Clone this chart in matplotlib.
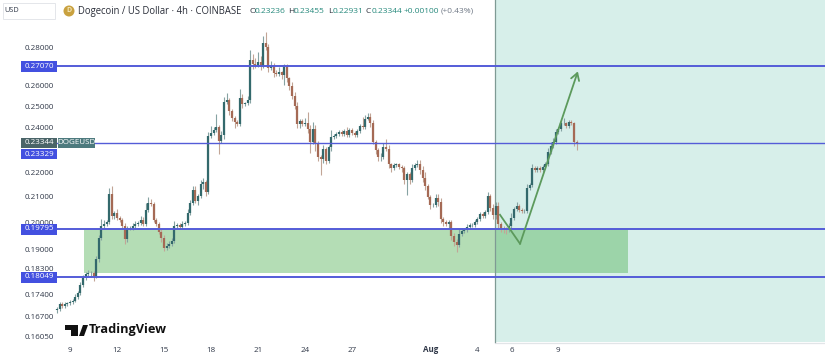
import numpy as np
import matplotlib
matplotlib.use("Agg")
import matplotlib.pyplot as plt
from matplotlib.patches import Rectangle, Circle, Polygon
from matplotlib.transforms import blended_transform_factory

plt.rcParams['font.family'] = ['Open Sans', 'DejaVu Sans']

# 4h closes, one row per day (Jul 8 .. Aug 10)
closes = [
 .1698,.1712,.1706,.1714,.1716,
 .1720,.1724,.1737,.1750,.1777,.1801,
 .1814,.1818,.1818,.1807,.1866,.1946,
 .1991,.1998,.2006,.2115,.2029,.2040,
 .2021,.2013,.1991,.1939,.1983,.1983,
 .1991,.1998,.2002,.2013,.1998,.2052,
 .2079,.2075,.2013,.1998,.1968,.1946,
 .1909,.1916,.1923,.1935,.1991,.1994,
 .1987,.1998,.2002,.2040,.2079,.2131,
 .2087,.2107,.2155,.2164,.2123,.2364,
 .2378,.2391,.2405,.2342,.2369,.2524,
 .2535,.2480,.2450,.2428,.2419,.2545,
 .2513,.2518,.2535,.2736,.2714,.2709,
 .2725,.2703,.2827,.2805,.2692,.2703,
 .2667,.2662,.2672,.2657,.2698,.2642,
 .2602,.2554,.2506,.2419,.2436,.2419,
 .2423,.2396,.2338,.2396,.2333,.2272,
 .2264,.2307,.2256,.2316,.2360,.2364,
 .2373,.2382,.2373,.2387,.2369,.2391,
 .2378,.2369,.2387,.2410,.2405,.2445,
 .2455,.2423,.2338,.2303,.2272,.2272,
 .2316,.2307,.2239,.2226,.2235,.2239,
 .2230,.2222,.2172,.2197,.2172,.2222,
 .2235,.2243,.2214,.2180,.2147,.2103,
 .2071,.2071,.2099,.2083,.2017,.2006,
 .1998,.2006,.1953,.1931,.1920,.1961,
 .1972,.1975,.1987,.1994,.1994,.2006,
 .2017,.2036,.2029,.2044,.2107,.2060,
 .2033,.2067,.1998,.1983,.1979,.1975,
 .1991,.2021,.2056,.2067,.2052,.2048,
 .2048,.2139,.2151,.2222,.2214,.2222,
 .2214,.2230,.2243,.2294,.2320,.2338,
 .2382,.2396,.2423,.2423,.2410,.2428,
 .2423,.2338,.2334,
]
# wick lengths above / below the body, in units of $0.0017
wick_up = [
 .3,.5,.4,.4,.3,
 .4,.4,.5,.3,.5,.5,
 .4,.6,.4,.4,.8,.5,
 1.5,.8,.5,1.5,2,.5,
 1,.5,.5,.6,.5,.5,
 .5,.6,.5,1,.6,1.5,
 1.5,1,.5,.5,.5,.5,
 .5,.5,.6,.5,1,.5,
 .5,.6,.5,1,.8,1,
 1,.5,1,1,.5,1,
 2,1,3.5,.5,1,1.5,
 2,.5,.5,.5,.5,2.5,
 1,.5,1,3,2,2,
 3,2,2.2,3.4,1,1.5,
 1,1,1.5,.5,1,1,
 .5,1.2,1,1,.5,.5,
 1.5,3,1,2,1,.5,
 .5,1,.5,.5,2,.5,
 .7,.5,.5,.7,1,.7,
 .5,.5,.5,.5,2.5,1,
 1,1,1,.5,.5,1,
 1,2,1,.5,.5,.5,
 .5,.5,.5,.5,.5,1,
 .5,1,1,1,1.5,.5,
 .5,.5,1,1,1,.5,
 .5,.5,.5,.5,.5,1,
 .5,.5,.5,.5,.5,.5,
 .5,.5,.5,.5,1,.5,
 1,1,1,.5,.5,.5,
 .5,1,.5,1,.5,.5,
 .5,1,.5,1,.5,.5,
 .5,.5,.5,1,1,1,
 1,.5,1,1.5,.5,.5,
 .5,.5,.5,
]
wick_down = [
 .6,.5,.4,.3,.5,
 .3,.4,.3,.4,.4,.5,
 .4,.5,.8,1,.4,.5,
 .5,.5,.5,.5,.8,.8,
 .5,.5,.5,1,.5,.5,
 .5,.5,.5,.5,.5,.5,
 .5,.5,.5,.5,.5,1,
 .8,.5,.5,.5,.5,.5,
 .5,.5,.5,.5,.5,.5,
 .5,1,.5,1,1,.5,
 .5,.5,.5,3.5,.5,1,
 .5,1,1,1.5,.5,.5,
 1,.5,.5,1,1.5,1,
 .5,1,.5,1,1,.5,
 1,.5,.5,1,3,1,
 1,1,1,1,1,.5,
 .5,1,3,.5,2,1,
 4,1,1,.5,1,.5,
 .5,.5,.5,.5,.5,.5,
 .5,.5,.5,.5,.5,.5,
 .5,1,.5,1,1,1,
 .5,.5,1,1,.5,.5,
 .5,1,1,3.5,1,.5,
 .5,.5,1,1,1,.5,
 1,.5,.5,1,1,1,
 .5,1,1,1,1.5,.5,
 .5,.5,.5,.5,.5,.5,
 .5,.5,.5,.5,.5,.8,
 1,1,1,1,1,1,
 .5,.5,.5,.5,.5,.5,
 .5,.5,.5,.5,.5,.5,
 .5,.5,.5,.5,.5,.5,
 .5,.5,.5,.5,.5,.5,
 .5,1,2,
]
wick_unit = 0.0017
first_day = -5/6          # first candle, in days after Jul 9
tick_days = [0, 3, 6, 9, 12, 15, 18, 23, 26, 28.2, 31.15]
tick_names = ['9', '12', '15', '18', '21', '24', '27', 'Aug', '4', '6', '9']
y_ticks = [0.28, 0.26, 0.25, 0.24, 0.22, 0.21, 0.20, 0.19, 0.183, 0.174, 0.167, 0.1605]
levels = [0.2707, 0.23329, 0.19795, 0.18049]
zone_low, zone_high = 0.1818, 0.19795
zone_days = (0.9, 35.6)
proj_start = 27.11
arrow_days = [27.44, 28.72, 32.41]
arrow_prices = [0.2033, 0.1923, 0.2677]

W, H = 825, 359
fig = plt.figure(figsize=(W/100, H/100), dpi=100, facecolor='white')
ax = fig.add_axes([0, 0, 1, 1])
ax.set_yscale('log')
ax.set_xlim(-70/15.67, (W-70)/15.67)
ax.set_ylim(0.28*np.exp(-311/521), 0.28*np.exp(48/521))
ax.axis('off')
trans_y = blended_transform_factory(ax.transAxes, ax.transData)
trans_x = blended_transform_factory(ax.transData, ax.transAxes)
px = lambda x: x/W
py = lambda y: 1-y/H

# projection region and zone
ax.add_patch(Rectangle((proj_start, py(342)), 100, 1-py(342), transform=trans_x,
                       facecolor='#d7efea', edgecolor='none', zorder=1))
ax.plot([px(495), 1], [py(342.5), py(342.5)], transform=ax.transAxes, color='#e2e5e8', lw=0.9, zorder=1)
ax.add_patch(Rectangle((zone_days[0], zone_low), zone_days[1]-zone_days[0], zone_high-zone_low,
                       facecolor='#4caf50', alpha=0.42, edgecolor='none', zorder=2))
ax.plot([proj_start, proj_start], [py(342), 1], transform=trans_x, color='#7f9a94', lw=0.9, zorder=3)

# candles
c = np.array(closes)
o = np.r_[c[0]-0.0004, c[:-1]]
up = np.array(wick_up)*wick_unit
dn = np.array(wick_down)*wick_unit
t = first_day + np.arange(len(c))/6
hi = np.maximum(o, c)+up
lo = np.minimum(o, c)-dn
rising = c >= o
for mask, body, wick in [(rising, '#33696c', '#86a3a3'), (~rising, '#a56a55', '#c2a596')]:
    ax.vlines(t[mask], lo[mask], hi[mask], color=wick, lw=0.8, zorder=4)
    ax.vlines(t[mask], np.minimum(o, c)[mask], np.maximum(o, c)[mask], color=body, lw=1.6, zorder=5)

# level lines
for lv, lw in zip(levels, [1.4, 1.0, 1.4, 1.4]):
    ax.plot([px(57), 1], [lv, lv], transform=trans_y, color='#545cd8', lw=lw, zorder=6)

# arrow path
ax.plot(arrow_days[:2], arrow_prices[:2], color='#5c9a5c', lw=1.3, zorder=7)
ax.annotate('', xy=(arrow_days[2], arrow_prices[2]), xytext=(arrow_days[1], arrow_prices[1]),
            arrowprops=dict(arrowstyle='->,head_length=0.5,head_width=0.3', color='#5c9a5c', lw=1.3,
                            shrinkA=0, shrinkB=0), zorder=7)

# price axis
for v in y_ticks:
    ax.text(px(39), v, f'{v:.5f}', transform=trans_y, ha='center', va='center',
            fontsize=5.8, color='#303848', zorder=8)

def tag(x0, x1, yc, h, text, color):
    ax.add_patch(Rectangle((px(x0), py(yc+h/2)), (x1-x0)/W, h/H, transform=ax.transAxes,
                           facecolor=color, edgecolor='none', zorder=9))
    ax.text(px((x0+x1)/2), py(yc), text, transform=ax.transAxes, ha='center', va='center',
            fontsize=5.8, color='white', zorder=10)

tag(21, 57, 66, 11, '0.27070', '#4350e0')
tag(21, 57, 229, 11, '0.19795', '#4350e0')
tag(21, 57, 277, 11, '0.18049', '#4350e0')
tag(21, 57, 143, 10, '0.23344', '#4a6468')
tag(21, 57, 154, 10, '0.23329', '#4350e0')
tag(58, 95, 143, 10, 'DOGEUSD', '#4d7a7e')

# time axis
for d, n in zip(tick_days, tick_names):
    ax.text(d, py(350), n, transform=trans_x, ha='center', va='center', fontsize=5.8,
            color='#303848', fontweight='bold' if n == 'Aug' else 'normal', zorder=8)

# header
ax.add_patch(Rectangle((px(3), py(19)), 52/W, 16/H, transform=ax.transAxes, facecolor='white',
                       edgecolor='#e4e6ea', lw=0.7, zorder=8))
ax.text(px(12), py(11), 'USD', transform=ax.transAxes, ha='center', va='center', fontsize=5.3,
        color='#303848', zorder=9)
fig.patches.append(Circle((69, H-11), 5.5, transform=None, facecolor='#c9a13f', edgecolor='none', zorder=9))
fig.text(69/W, py(11), 'D', ha='center', va='center', fontsize=5, color='#f3e6b8', fontweight='bold', zorder=10)
ax.text(px(78), py(11.5), 'Dogecoin / US Dollar · 4h · COINBASE', transform=ax.transAxes,
        ha='left', va='center', fontsize=6.85, color='#2a2e39', zorder=9)
hdr = [(249, 'O', '#2a2e39'), (255, '0.23236', '#26897c'), (288, 'H', '#2a2e39'), (294, '0.23455', '#26897c'),
       (328, 'L', '#2a2e39'), (333, '0.22931', '#26897c'), (366, 'C', '#2a2e39'), (372, '0.23344', '#26897c'),
       (404, '+0.00100', '#26897c'), (441, '(+0.43%)', '#6f7885')]
for x, s, col in hdr:
    ax.text(px(x), py(11.5), s, transform=ax.transAxes, ha='left', va='center', fontsize=6.0, color=col, zorder=9)

# logo
for pts in [[[65, 325], [78, 325], [78, 336], [71, 336], [71, 330], [65, 330]],
            [[79, 336], [83, 325], [88, 325], [84, 336]]]:
    ax.add_patch(Polygon([[px(a), py(b)] for a, b in pts], closed=True, transform=ax.transAxes,
                         facecolor='#111111', edgecolor='none', zorder=9))
ax.text(px(89), py(330), 'TradingView', transform=ax.transAxes, ha='left', va='center', fontsize=9.2,
        fontweight='bold', color='#111111', zorder=9)

fig.savefig('out.png', dpi=100, facecolor='white')
